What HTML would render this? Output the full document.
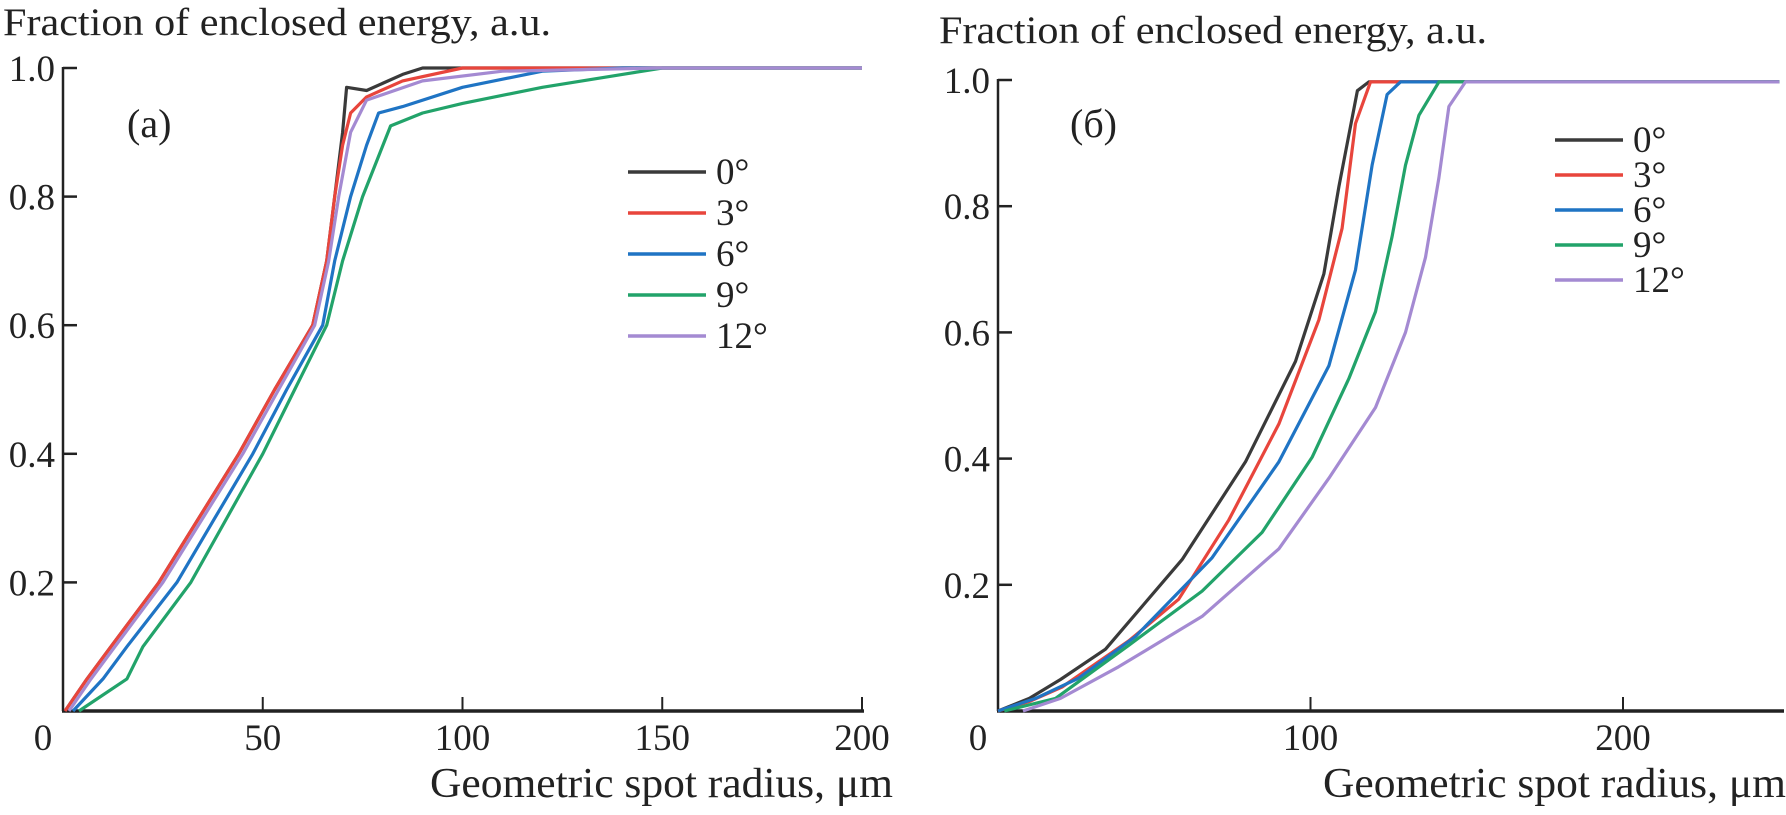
<!DOCTYPE html>
<html><head><meta charset="utf-8"><style>
body{margin:0;background:#fff}
svg text{font-family:"Liberation Serif",serif;fill:#222}
</style></head><body>
<svg width="1786" height="810" xmlns="http://www.w3.org/2000/svg">
<g id="root"></g>
</svg>
<script>
const names=["0°","3°","6°","9°","12°"];
const colors=["#3a3a3a","#e8453c","#1f74c4","#22a36a","#a48ad2"];
const aBlackX=[0.5,6,12,24,34,44,53,62.5,66,68,70,71,76,85,90,200];
const aBlackY=[0,0.05,0.1,0.2,0.3,0.4,0.5,0.6,0.7,0.8,0.9,0.97,0.965,0.99,1.0,1.0];
const aRedX=[0.5,6,12,24,34,44,53,62.5,66,68,70,72,76,85,100,200];
const aRedY=[0,0.05,0.1,0.2,0.3,0.4,0.5,0.6,0.7,0.8,0.88,0.93,0.955,0.98,1.0,1.0];
const aBlueX=[2.5,10,16,28.5,38,47.5,56,65,68,72,76,79,85,100,120,140,200];
const aBlueY=[0,0.05,0.1,0.2,0.3,0.4,0.5,0.6,0.7,0.8,0.88,0.93,0.94,0.97,0.995,1.0,1.0];
const aGreenX=[4,16,20,32,41,50,58,66,70,75,82,90,100,120,140,150,200];
const aGreenY=[0,0.05,0.1,0.2,0.3,0.4,0.5,0.6,0.7,0.8,0.91,0.93,0.945,0.97,0.99,1.0,1.0];
const aPurpleX=[1.5,7,13,25,35,45,54,63,66.5,69,72,76,90,110,150,200];
const aPurpleY=[0,0.05,0.1,0.2,0.3,0.4,0.5,0.6,0.7,0.8,0.9,0.95,0.98,0.995,1.0,1.0];
const bBlackX=[0,10,20,34.4,58.9,79.2,95.2,104.3,109.1,115,118.7,250];
const bBlackY=[0,0.02,0.05,0.098,0.24,0.395,0.554,0.693,0.831,0.983,0.997,0.997];
const bRedX=[0,10,20.5,41.8,57.8,73.9,89.9,102.7,110.1,114.4,119.2,250];
const bRedY=[0,0.015,0.038,0.111,0.177,0.303,0.455,0.62,0.765,0.931,0.997,0.997];
const bBlueX=[0,12,25.8,44,68.5,89.9,105.9,114.4,119.7,124.5,128.8,250];
const bBlueY=[0,0.02,0.052,0.118,0.243,0.395,0.547,0.699,0.865,0.977,0.997,0.997];
const bGreenX=[2,18.4,41.8,65.3,84.5,100.5,112.3,120.8,126.1,130.4,134.7,141.1,250];
const bGreenY=[0,0.02,0.104,0.19,0.283,0.402,0.527,0.633,0.752,0.865,0.944,0.997,0.997];
const bPurpleX=[8,20,38.6,65.3,89.9,105.9,120.8,130.4,136.8,141.1,144.3,149.6,250];
const bPurpleY=[0,0.02,0.07,0.15,0.257,0.369,0.481,0.6,0.719,0.845,0.958,0.997,0.997];
const aTicksX=[0,50,100,150,200];
const bTicksX=[0,100,200];
const ticksY=[0.2,0.4,0.6,0.8,1.0];

const NS="http://www.w3.org/2000/svg";
const root=document.getElementById('root');
function el(t,a,txt){const e=document.createElementNS(NS,t);for(const k in a)e.setAttribute(k,a[k]);if(txt!==undefined)e.textContent=txt;root.appendChild(e);return e;}

function panel(p){
  const sx=v=>p.x0+(v-p.xmin)*(p.x1-p.x0)/(p.xmax-p.xmin);
  const sy=v=>p.y0-v*(p.y0-p.y1);
  let a=el('line',{x1:p.x0,y1:p.y0,x2:p.x0,y2:sy(1.0)-1,stroke:'#222','stroke-width':2.5});
  
  a=el('line',{x1:p.x0-1,y1:p.y0,x2:p.xend,y2:p.y0,stroke:'#222','stroke-width':3.5});
  
  ticksY.forEach(v=>{
    const t=el('line',{x1:p.x0,x2:p.x0+14,y1:sy(v),y2:sy(v),stroke:'#222','stroke-width':2.5});
    
    const l=el('text',{x:p.x0-8,y:sy(v)+13,'text-anchor':'end','font-size':37},v.toFixed(1));
    
  });
  p.ticks.forEach(v=>{
    if(v>0){const t=el('line',{x1:sx(v),x2:sx(v),y1:p.y0,y2:p.y0-14,stroke:'#222','stroke-width':2});
    }
    const l=el('text',{x:v==0?sx(v)-20:sx(v),y:p.y0+39,'text-anchor':'middle','font-size':37},String(v));
    
  });
  p.series.forEach((s,i)=>{
    const d=s[0].map((x,j)=>(j?'L':'M')+sx(x).toFixed(1)+','+sy(s[1][j]).toFixed(1)).join('');
    const pl=el('path',{d:d,fill:'none',stroke:colors[i],'stroke-width':3.2,'stroke-linejoin':'round'});
    
    const ly=p.legY+i*p.legDy;
    const ll=el('line',{x1:p.legX,x2:p.legX+p.legW,y1:ly,y2:ly,stroke:colors[i],'stroke-width':3.5});
    
    const lt=el('text',{x:p.legX+p.legW+10,y:ly+12,'font-size':37},names[i]);
    
  });
  let t=el('text',{x:p.titleX,y:p.titleY,'font-size':39,textLength:548,lengthAdjust:'spacingAndGlyphs'},'Fraction of enclosed energy, a.u.');
  
  t=el('text',{x:p.xtX-463,y:797,'font-size':42,textLength:463,lengthAdjust:'spacingAndGlyphs'},'Geometric spot radius, μm');
  
  t=el('text',{x:p.labX,y:137,'font-size':40},p.label);
  
}
panel({id:'panel-a',x0:63,x1:862,xmin:0,xmax:200,xend:864,y0:711,y1:68,ticks:aTicksX,
  series:[[aBlackX,aBlackY],[aRedX,aRedY],[aBlueX,aBlueY],[aGreenX,aGreenY],[aPurpleX,aPurpleY]],
  legX:628,legW:78,legY:172,legDy:41,titleX:3,titleY:35,xtX:893,labX:127,label:'(a)'});
panel({id:'panel-b',x0:998,x1:1623,xmin:0,xmax:200,xend:1784,y0:711,y1:80,ticks:bTicksX,
  series:[[bBlackX,bBlackY],[bRedX,bRedY],[bBlueX,bBlueY],[bGreenX,bGreenY],[bPurpleX,bPurpleY]],
  legX:1555,legW:68,legY:140,legDy:35,titleX:939,titleY:43,xtX:1786,labX:1070,label:'(б)'});
</script>
</body></html>
